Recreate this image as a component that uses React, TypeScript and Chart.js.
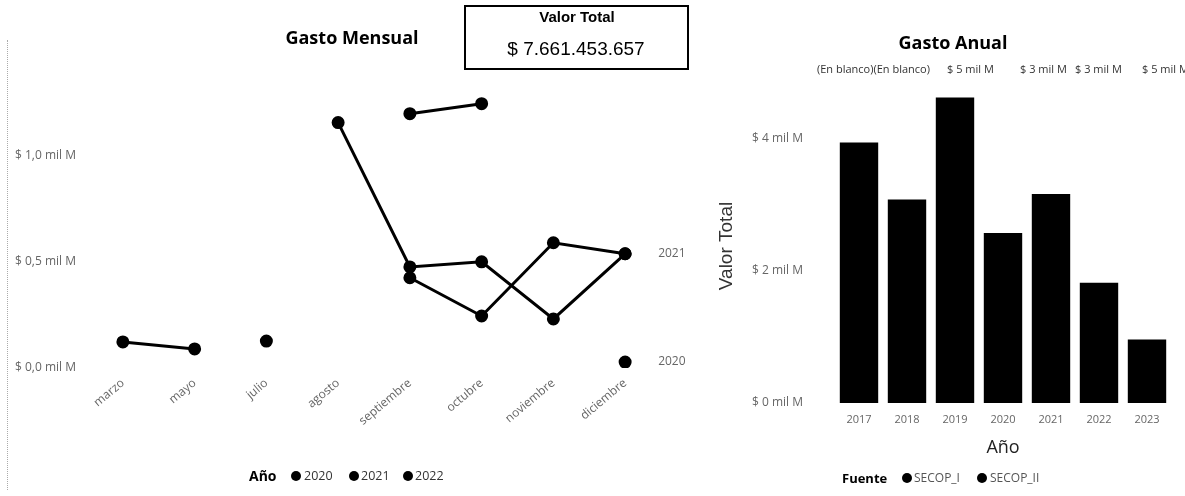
import React, { useEffect, useRef } from 'react';
import { Chart, registerables } from 'chart.js';
Chart.register(...registerables);

// ---- Gasto Mensual (mil M) ----
const meses = ['marzo', 'mayo', 'julio', 'agosto', 'septiembre', 'octubre', 'noviembre', 'diciembre'];
const gasto2020 = [null, null, 0.127, null, null, null, null, 0.028];
const gasto2021 = [0.123, 0.09, null, 1.156, 0.476, 0.5, 0.231, 0.538];
const gasto2022 = [null, null, null, null, 1.198, 1.245, null, null];
const gastoSerie4 = [null, null, null, null, 0.425, 0.245, 0.59, 0.538];
const ticksMensual = [0, 0.5, 1.0];
const leyendaAnio = ['2020', '2021', '2022'];

// ---- Gasto Anual (mil M) ----
const anios = ['2017', '2018', '2019', '2020', '2021', '2022', '2023'];
const gastoAnual = [3.94, 3.08, 4.62, 2.57, 3.16, 1.82, 0.96];
const ticksAnual = [0, 2, 4];
const leyendaFuente = ['SECOP_I', 'SECOP_II'];
const etiquetasAnual = ['(En blanco)(En blanco)', '$ 5 mil M', '$ 3 mil M', '$ 3 mil M', '$ 5 mil M'];
const etiquetasAnualX = [817, 947, 1020, 1075, 1142];

const valorTotal = '$ 7.661.453.657';

const FONT = '"Open Sans", "Noto Sans", sans-serif';

const endLabels = {
  id: 'endLabels',
  afterDatasetsDraw(chart: any) {
    const { ctx } = chart;
    chart.data.datasets.forEach((ds: any, i: number) => {
      if (!ds.endLabel) return;
      const meta = chart.getDatasetMeta(i);
      const last = meta.data[meta.data.length - 1];
      ctx.save();
      ctx.font = '12px ' + FONT;
      ctx.fillStyle = '#666';
      ctx.textAlign = 'left';
      ctx.textBaseline = 'middle';
      ctx.fillText(ds.endLabel, last.x + 33, last.y);
      ctx.restore();
    });
  },
};

function lineDs(label: string, data: (number | null)[], endLabel?: string) {
  return {
    label,
    data,
    endLabel,
    borderColor: '#000',
    backgroundColor: '#000',
    pointBackgroundColor: '#000',
    pointBorderColor: '#000',
    borderWidth: 3,
    pointRadius: 5,
    tension: 0,
    spanGaps: false,
  } as any;
}

export default function App() {
  const leftRef = useRef<HTMLCanvasElement>(null);
  const rightRef = useRef<HTMLCanvasElement>(null);

  useEffect(() => {
    Chart.defaults.font.family = FONT;
    const left = new Chart(leftRef.current!, {
      type: 'line',
      data: {
        labels: meses,
        datasets: [
          lineDs('2020', gasto2020, '2020'),
          lineDs('2021', gasto2021, '2021'),
          lineDs('2022', gasto2022),
          lineDs('serie4', gastoSerie4),
        ],
      },
      plugins: [endLabels],
      options: {
        responsive: false,
        animation: false,
        layout: { padding: { left: 15, right: 39, top: 92, bottom: 48 } },
        plugins: { legend: { display: false }, tooltip: { enabled: false }, title: { display: false } },
        scales: {
          x: {
            offset: true,
            grid: { display: false, drawTicks: false },
            border: { display: false },
            ticks: {
              autoSkip: false,
              minRotation: 40,
              maxRotation: 40,
              padding: 8,
              color: '#666',
              font: { size: 12 },
            },
            afterFit: (s: any) => { s.height = 80; },
          },
          y: {
            min: 0,
            max: 1.3,
            grid: { display: false, drawTicks: false },
            border: { display: false },
            ticks: {
              crossAlign: 'far',
              color: '#666',
              font: { size: 12 },
              callback: (v: any) => '$ ' + Number(v).toFixed(1).replace('.', ',') + ' mil M',
            },
            afterBuildTicks: (s: any) => { s.ticks = ticksMensual.map((v) => ({ value: v })); },
            afterFit: (s: any) => { s.width = 72; },
          },
        },
      } as any,
    });

    const right = new Chart(rightRef.current!, {
      type: 'bar',
      data: {
        labels: anios,
        datasets: [
          {
            label: 'Valor Total',
            data: gastoAnual,
            backgroundColor: '#000',
            borderWidth: 0,
            barPercentage: 0.8,
            categoryPercentage: 1,
          },
        ],
      },
      options: {
        responsive: false,
        animation: false,
        layout: { padding: { left: 0, right: 14, top: 89, bottom: 37 } },
        plugins: { legend: { display: false }, tooltip: { enabled: false } },
        scales: {
          x: {
            grid: { display: false, drawTicks: false },
            border: { display: false },
            ticks: { padding: 10, color: '#666', font: { size: 11 } },
            title: { display: true, text: 'Año', color: '#222', font: { size: 18 }, padding: 0 },
            afterFit: (s: any) => { s.height = 56; },
          },
          y: {
            min: 0,
            max: 4.75,
            grid: { display: false, drawTicks: false },
            border: { display: false },
            ticks: {
              padding: 32,
              color: '#666',
              font: { size: 12 },
              callback: (v: any) => '$ ' + v + ' mil M',
            },
            title: {
              display: true,
              text: 'Valor Total',
              color: '#333',
              font: { size: 19, family: '"Liberation Sans", Arial, sans-serif' },
              padding: { top: 15, bottom: 0 },
            },
            afterBuildTicks: (s: any) => { s.ticks = ticksAnual.map((v) => ({ value: v })); },
            afterFit: (s: any) => { s.width = 135; },
          },
        },
      } as any,
    });

    return () => {
      left.destroy();
      right.destroy();
    };
  }, []);

  const abs = (x: number, y: number, extra: React.CSSProperties = {}): React.CSSProperties => ({
    position: 'absolute',
    left: x,
    top: y,
    whiteSpace: 'nowrap',
    lineHeight: 1,
    ...extra,
  });
  const dot = (cx: number, cy: number) => (
    <div
      style={{
        position: 'absolute',
        left: cx - 5,
        top: cy - 5,
        width: 10,
        height: 10,
        borderRadius: 5,
        background: '#000',
      }}
    />
  );

  return (
    <div
      style={{
        position: 'fixed',
        left: 0,
        top: 0,
        width: 1185,
        height: 496,
        background: '#fff',
        overflow: 'hidden',
        fontFamily: FONT,
        color: '#000',
      }}
    >
      <div style={{ position: 'absolute', left: 7, top: 40, height: 450, borderLeft: '1px dotted #aaa' }} />
      <canvas
        ref={leftRef}
        width={700}
        height={496}
        style={{ position: 'absolute', left: 0, top: 0, width: 700, height: 496 }}
      />
      <canvas
        ref={rightRef}
        width={485}
        height={496}
        style={{ position: 'absolute', left: 700, top: 0, width: 485, height: 496 }}
      />

      {/* Gasto Mensual title */}
      <div style={abs(352, 37, { transform: 'translate(-50%, -50%)', fontWeight: 700, fontSize: 18 })}>
        Gasto Mensual
      </div>

      {/* Valor Total card */}
      <div
        style={{
          position: 'absolute',
          left: 464,
          top: 5,
          width: 225,
          height: 65,
          border: '2px solid #000',
          boxSizing: 'border-box',
        }}
      />
      <div
        style={abs(577, 16, {
          transform: 'translate(-50%, -50%)',
          fontWeight: 700,
          fontSize: 15,
          fontFamily: '"Liberation Sans", Arial, sans-serif',
        })}
      >
        Valor Total
      </div>
      <div
        style={abs(576, 48, {
          transform: 'translate(-50%, -50%)',
          fontSize: 19,
          fontFamily: '"Liberation Sans", Arial, sans-serif',
        })}
      >
        {valorTotal}
      </div>

      {/* Left legend */}
      <div style={abs(249, 476, { transform: 'translateY(-50%)', fontWeight: 700, fontSize: 14 })}>Año</div>
      {leyendaAnio.map((t, i) => (
        <React.Fragment key={t}>
          {dot([296, 354, 408][i], 476)}
          <div style={abs([304, 361, 415][i], 476, { transform: 'translateY(-50%)', fontSize: 12.5, color: '#333' })}>
            {t}
          </div>
        </React.Fragment>
      ))}

      {/* Gasto Anual title */}
      <div style={abs(953, 42, { transform: 'translate(-50%, -50%)', fontWeight: 700, fontSize: 18 })}>
        Gasto Anual
      </div>
      {etiquetasAnual.map((t, i) => (
        <div
          key={i}
          style={abs(etiquetasAnualX[i], 68, { transform: 'translateY(-50%)', fontSize: 11, color: '#333' })}
        >
          {t}
        </div>
      ))}

      {/* Right legend */}
      <div style={abs(842, 478, { transform: 'translateY(-50%)', fontWeight: 700, fontSize: 13 })}>Fuente</div>
      {leyendaFuente.map((t, i) => (
        <React.Fragment key={t}>
          {dot([907, 982][i], 478)}
          <div style={abs([914, 990][i], 478, { transform: 'translateY(-50%)', fontSize: 12, color: '#555' })}>
            {t}
          </div>
        </React.Fragment>
      ))}
    </div>
  );
}
